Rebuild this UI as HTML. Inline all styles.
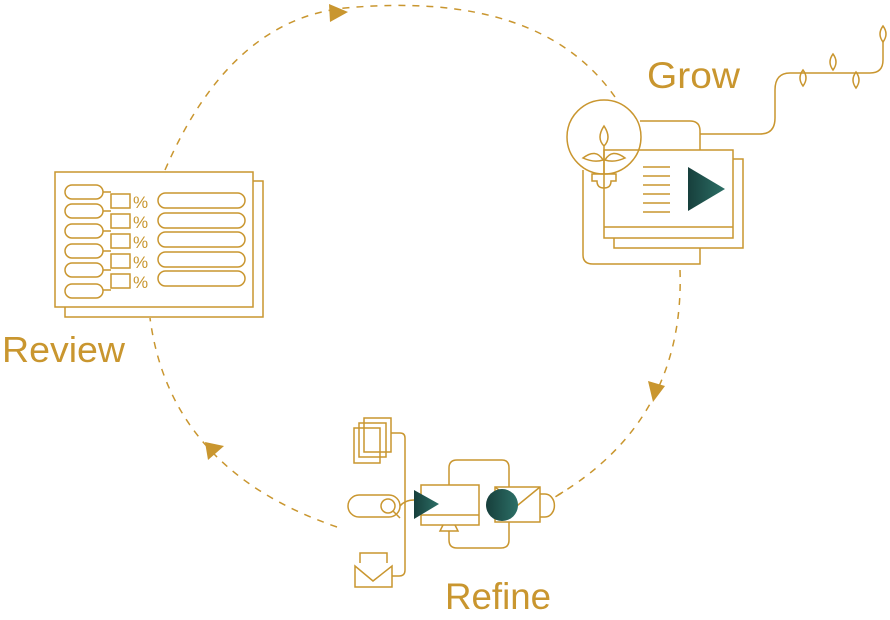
<!DOCTYPE html>
<html><head><meta charset="utf-8"><style>
html,body{margin:0;padding:0;background:#fff;}
svg{display:block;}
text{font-family:"Liberation Sans",sans-serif;fill:#c9962f;}
</style></head><body>
<svg width="890" height="620" viewBox="0 0 890 620" xmlns="http://www.w3.org/2000/svg">
<defs>
<linearGradient id="tg" x1="0" x2="1" y1="0" y2="0"><stop offset="0" stop-color="#173f3c"/><stop offset="1" stop-color="#2c6f66"/></linearGradient>
</defs>
<g fill="none" stroke="#c9962f" stroke-width="1.5" stroke-dasharray="7,7">
<path d="M165,170 Q230,20 345,8 Q540,-10 615,97"/>
<path d="M680,270 Q685,420 555,497"/>
<path d="M337,527 Q170,470 150,318"/>
</g>
<g fill="#c9962f">
<polygon points="329,4 348,12 330,22"/>
<polygon points="648,381 665,386 653,402"/>
<polygon points="205,442 224,446 208,460"/>
</g>
<g fill="none" stroke="#c9962f" stroke-width="1.5">
<path d="M253,181 H263 V317 H65 V307"/>
<rect x="55" y="172" width="198" height="135"/>
<rect x="65" y="185" width="38" height="14" rx="7"/>
<rect x="65" y="204" width="38" height="14" rx="7"/>
<rect x="65" y="224" width="38" height="14" rx="7"/>
<rect x="65" y="244" width="38" height="14" rx="7"/>
<rect x="65" y="263" width="38" height="14" rx="7"/>
<rect x="65" y="284" width="38" height="14" rx="7"/>
<rect x="111" y="194" width="19" height="14"/>
<rect x="111" y="214" width="19" height="14"/>
<rect x="111" y="234" width="19" height="14"/>
<rect x="111" y="254" width="19" height="14"/>
<rect x="111" y="274" width="19" height="14"/>
<path d="M103,192 H111 M103,211 H111 M103,231 H111 M103,251 H111 M103,270 H111 M103,290 H111"/>
<rect x="158" y="193" width="87" height="15" rx="7.5"/>
<rect x="158" y="213" width="87" height="15" rx="7.5"/>
<rect x="158" y="232" width="87" height="15" rx="7.5"/>
<rect x="158" y="252" width="87" height="15" rx="7.5"/>
<rect x="158" y="271" width="87" height="15" rx="7.5"/>
<path d="M640,121 H690 Q700,121 700,131 V150"/>
<path d="M583,170 V255 Q583,264 593,264 H700 V248"/>
<path d="M733,159 H743 V248 H614 V238"/>
<rect x="604" y="150" width="129" height="88"/>
<path d="M604,227 H733"/>
<path d="M643,167 H670 M643,176 H670 M643,185 H670 M643,194 H670 M643,203 H670 M643,212 H670"/>
<circle cx="604" cy="137" r="37"/>
<path d="M592,174 H616 V181 H611 Q611,188 604,188 Q597,188 597,181 H592 Z"/>
<path d="M604,174 V146 M604,146 Q596,138 604,126 Q612,138 604,146 Z M603,160 Q596,148 583,158 Q594,163 603,160 Z M605,160 Q612,148 625,158 Q614,163 605,160 Z"/>
<path d="M700,134 H760 Q775,134 775,118 V90 Q775,73 790,73 H870 Q883,73 883,60 V42"/>
<path d="M883,26 Q889,34 883,42 Q877,34 883,26 Z M803,70 Q809,78 803,86 Q797,78 803,70 Z M833,54 Q839,62 833,70 Q827,62 833,54 Z M856,72 Q862,80 856,88 Q850,80 856,72 Z"/>
<rect x="364" y="418" width="27" height="34"/>
<rect x="359" y="423" width="27" height="34"/>
<rect x="354" y="428" width="26" height="35"/>
<path d="M391,433 H400 Q405,433 405,438 V570 Q405,576 399,576 H392"/>
<path d="M400,506 Q405,500 414,500"/>
<rect x="348" y="495" width="52" height="22" rx="11"/>
<circle cx="388" cy="506" r="7"/>
<path d="M393,511 L400,518"/>
<path d="M360,563 V553 H387 V563"/>
<path d="M355,566 V587 H392 V566 L373,581 Z"/>
<rect x="421" y="485" width="58" height="40"/>
<path d="M421,515 H479 M443,525 L440,531 H458 L455,525"/>
<path d="M449,485 V468 Q449,460 457,460 H502 Q509,460 509,468 V487 M509,522 V540 Q509,548 501,548 H457 Q449,548 449,540 V531"/>
<rect x="495" y="487" width="45" height="35"/>
<path d="M495,487 L518,505 L540,487"/>
<path d="M540,494 H545 A9,11 0 0 1 545,517 H540 M558,495 L563,492"/>
</g>
<polygon points="414,490 414,519 439,504" fill="url(#tg)"/>
<circle cx="502" cy="505" r="16" fill="url(#tg)"/>
<polygon points="688,167 688,211 725,189" fill="url(#tg)"/>
<g font-size="17">
<text x="133" y="208">%</text><text x="133" y="228">%</text><text x="133" y="248">%</text><text x="133" y="268">%</text><text x="133" y="288">%</text>
</g>
<text x="2" y="362" font-size="36" textLength="123" lengthAdjust="spacingAndGlyphs">Review</text>
<text x="647" y="88" font-size="37" textLength="93" lengthAdjust="spacingAndGlyphs">Grow</text>
<text x="445" y="609" font-size="37" textLength="106" lengthAdjust="spacingAndGlyphs">Refine</text>
</svg>
</body></html>
